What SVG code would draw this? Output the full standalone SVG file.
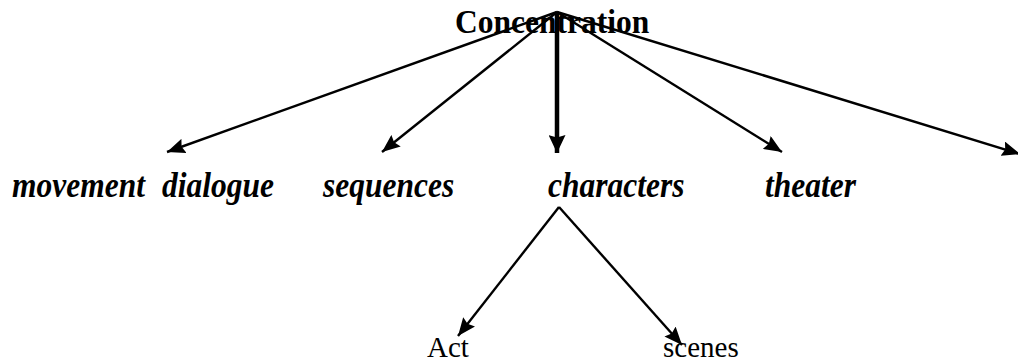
<svg xmlns="http://www.w3.org/2000/svg" width="1018" height="363" viewBox="0 0 1018 363">
<style>
.lbl{font-family:"Liberation Serif","Times New Roman",serif;font-weight:bold;font-style:italic;font-size:31.5px;fill:#000}
.top{font-family:"Liberation Serif","Times New Roman",serif;font-weight:bold;font-size:31.5px;fill:#000}
.sub{font-family:"Liberation Serif","Times New Roman",serif;font-size:29px;fill:#000}
.c{stroke:#000;stroke-width:2.4;fill:none}
.thick{stroke:#000;stroke-width:4.5;fill:none}
</style>
<defs>
<marker id="ah" markerUnits="userSpaceOnUse" markerWidth="19" markerHeight="15" refX="18" refY="7.5" orient="auto">
<path d="M0,0 L18,7.5 L0,15 L2.5,7.5 z" fill="#000"/>
</marker>
<marker id="ahb" markerUnits="userSpaceOnUse" markerWidth="19" markerHeight="17" refX="18" refY="8.5" orient="auto">
<path d="M0,0 L18,8.5 L0,17 L2.5,8.5 z" fill="#000"/>
</marker>
</defs>
<rect width="1018" height="363" fill="#fff"/>
<g id="connectors">
<line class="c" x1="557" y1="12" x2="167" y2="152" marker-end="url(#ah)"/>
<line class="c" x1="557" y1="12" x2="382" y2="152" marker-end="url(#ah)"/>
<line class="thick" x1="557" y1="12" x2="557" y2="153" marker-end="url(#ahb)"/>
<line class="c" x1="557" y1="12" x2="782" y2="152" marker-end="url(#ah)"/>
<line class="c" x1="557" y1="12" x2="1020" y2="154" marker-end="url(#ah)"/>
<line class="c" x1="559" y1="207" x2="458" y2="336" marker-end="url(#ah)"/>
<line class="c" x1="559" y1="207" x2="682" y2="345" marker-end="url(#ah)"/>
</g>
<g id="concentration"><text class="top" transform="translate(455,33) scale(1,1.1)">Concentration</text></g>
<g id="movement"><text class="lbl" transform="translate(12,197) scale(1,1.12)">movement</text></g>
<g id="dialogue"><text class="lbl" transform="translate(162,197) scale(1,1.12)">dialogue</text></g>
<g id="sequences"><text class="lbl" transform="translate(323,197) scale(1,1.12)">sequences</text></g>
<g id="characters"><text class="lbl" transform="translate(548,197) scale(1,1.12)">characters</text></g>
<g id="theater"><text class="lbl" transform="translate(765,197) scale(1,1.12)">theater</text></g>
<g id="act"><text class="sub" x="427" y="357">Act</text></g>
<g id="scenes"><text class="sub" x="663" y="357">scenes</text></g>
</svg>
